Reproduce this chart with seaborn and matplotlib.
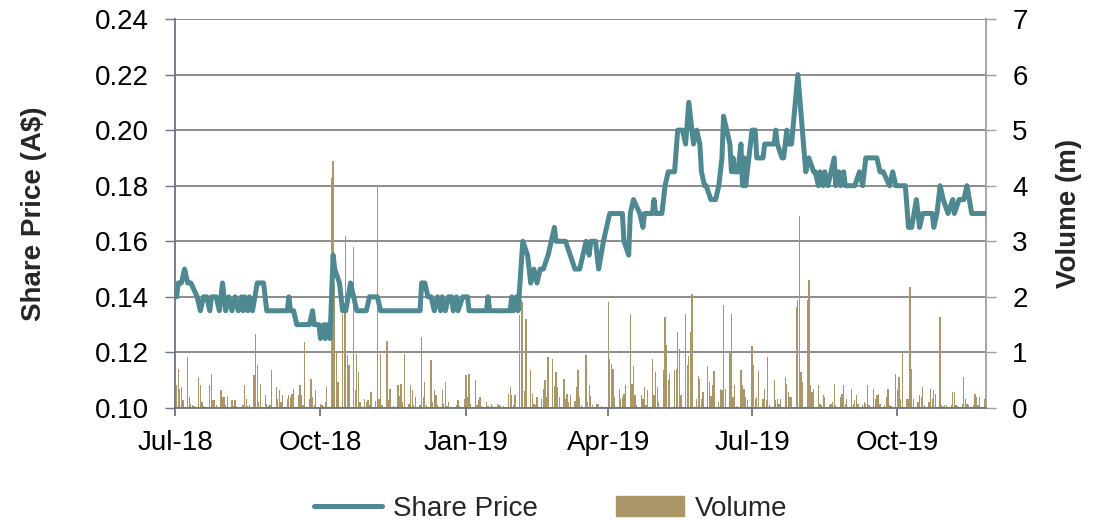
## Share price (line) and daily traded volume (bars), Jul-18 to Nov-19, dual axis.

import pandas as pd
import matplotlib
matplotlib.use('Agg')
import matplotlib.pyplot as plt
import matplotlib.dates as mdates
from matplotlib.ticker import FormatStrFormatter, MultipleLocator
from matplotlib.lines import Line2D
from matplotlib.patches import Patch
import seaborn as sns

PRICE_COLOR = '#4E8992'
VOLUME_COLOR = '#AB9668'

# Share price turning points (A$)
price_dates = [
    '2018-07-02', '2018-07-03', '2018-07-05', '2018-07-07', '2018-07-09', '2018-07-11',
    '2018-07-15', '2018-07-17', '2018-07-19', '2018-07-21', '2018-07-23', '2018-07-24',
    '2018-07-27', '2018-07-29', '2018-07-31', '2018-08-02', '2018-08-04', '2018-08-06',
    '2018-08-08', '2018-08-10', '2018-08-12', '2018-08-13', '2018-08-14', '2018-08-16',
    '2018-08-17', '2018-08-19', '2018-08-22', '2018-08-26', '2018-08-28', '2018-09-10',
    '2018-09-11', '2018-09-12', '2018-09-14', '2018-09-16', '2018-09-24', '2018-09-26',
    '2018-09-27', '2018-09-30', '2018-10-01', '2018-10-03', '2018-10-04', '2018-10-05',
    '2018-10-07', '2018-10-09', '2018-10-10', '2018-10-13', '2018-10-15', '2018-10-17',
    '2018-10-20', '2018-10-22', '2018-10-24', '2018-10-30', '2018-11-01', '2018-11-06',
    '2018-11-08', '2018-12-03', '2018-12-04', '2018-12-06', '2018-12-08', '2018-12-10',
    '2018-12-12', '2018-12-14', '2018-12-16', '2018-12-17', '2018-12-19', '2018-12-21',
    '2018-12-23', '2018-12-24', '2018-12-26', '2018-12-27', '2018-12-30', '2019-01-02',
    '2019-01-03', '2019-01-14', '2019-01-15', '2019-01-16', '2019-01-29', '2019-01-30',
    '2019-01-31', '2019-02-02', '2019-02-03', '2019-02-06', '2019-02-09', '2019-02-11',
    '2019-02-13', '2019-02-15', '2019-02-17', '2019-02-19', '2019-02-22', '2019-02-24',
    '2019-02-26', '2019-02-27', '2019-03-05', '2019-03-08', '2019-03-11', '2019-03-14',
    '2019-03-18', '2019-03-20', '2019-03-21', '2019-03-24', '2019-03-26', '2019-03-29',
    '2019-03-31', '2019-04-02', '2019-04-10', '2019-04-11', '2019-04-14', '2019-04-15',
    '2019-04-17', '2019-04-21', '2019-04-23', '2019-04-24', '2019-04-29', '2019-04-30',
    '2019-05-01', '2019-05-05', '2019-05-07', '2019-05-09', '2019-05-13', '2019-05-15',
    '2019-05-18', '2019-05-20', '2019-05-22', '2019-05-25', '2019-05-27', '2019-05-29',
    '2019-05-30', '2019-06-01', '2019-06-02', '2019-06-05', '2019-06-08', '2019-06-10',
    '2019-06-12', '2019-06-13', '2019-06-15', '2019-06-17', '2019-06-18', '2019-06-19',
    '2019-06-20', '2019-06-22', '2019-06-24', '2019-06-25', '2019-06-26', '2019-06-27',
    '2019-06-29', '2019-07-01', '2019-07-03', '2019-07-04', '2019-07-08', '2019-07-09',
    '2019-07-15', '2019-07-16', '2019-07-17', '2019-07-20', '2019-07-21', '2019-07-23',
    '2019-07-24', '2019-07-26', '2019-07-30', '2019-08-04', '2019-08-06', '2019-08-09',
    '2019-08-10', '2019-08-12', '2019-08-13', '2019-08-15', '2019-08-16', '2019-08-18',
    '2019-08-20', '2019-08-22', '2019-08-23', '2019-08-25', '2019-08-26', '2019-08-28',
    '2019-08-29', '2019-09-04', '2019-09-07', '2019-09-09', '2019-09-11', '2019-09-18',
    '2019-09-20', '2019-09-22', '2019-09-26', '2019-09-28', '2019-09-30', '2019-10-06',
    '2019-10-08', '2019-10-10', '2019-10-13', '2019-10-15', '2019-10-17', '2019-10-23',
    '2019-10-24', '2019-10-26', '2019-10-28', '2019-10-30', '2019-11-02', '2019-11-05',
    '2019-11-06', '2019-11-09', '2019-11-12', '2019-11-14', '2019-11-17', '2019-11-26',
]
price_values = [
    0.140, 0.145, 0.145, 0.150, 0.145, 0.145,
    0.140, 0.135, 0.140, 0.140, 0.135, 0.140,
    0.140, 0.135, 0.145, 0.135, 0.140, 0.135,
    0.140, 0.135, 0.140, 0.135, 0.140, 0.135,
    0.140, 0.135, 0.145, 0.145, 0.135, 0.135,
    0.140, 0.135, 0.135, 0.130, 0.130, 0.135,
    0.130, 0.130, 0.125, 0.130, 0.125, 0.130,
    0.125, 0.155, 0.150, 0.145, 0.135, 0.135,
    0.145, 0.140, 0.135, 0.135, 0.140, 0.140,
    0.135, 0.135, 0.145, 0.145, 0.140, 0.140,
    0.135, 0.140, 0.135, 0.140, 0.135, 0.140,
    0.140, 0.135, 0.140, 0.135, 0.140, 0.140,
    0.135, 0.135, 0.140, 0.135, 0.135, 0.140,
    0.135, 0.140, 0.135, 0.160, 0.155, 0.145,
    0.150, 0.145, 0.150, 0.150, 0.155, 0.160,
    0.165, 0.160, 0.160, 0.155, 0.150, 0.150,
    0.160, 0.155, 0.160, 0.160, 0.150, 0.160,
    0.165, 0.170, 0.170, 0.160, 0.155, 0.170,
    0.175, 0.170, 0.165, 0.170, 0.170, 0.175,
    0.170, 0.170, 0.180, 0.185, 0.185, 0.200,
    0.200, 0.195, 0.210, 0.195, 0.200, 0.195,
    0.185, 0.180, 0.180, 0.175, 0.175, 0.180,
    0.190, 0.205, 0.200, 0.195, 0.185, 0.190,
    0.185, 0.185, 0.195, 0.180, 0.190, 0.180,
    0.190, 0.200, 0.200, 0.190, 0.190, 0.195,
    0.195, 0.200, 0.195, 0.190, 0.190, 0.200,
    0.195, 0.195, 0.220, 0.185, 0.190, 0.185,
    0.185, 0.180, 0.185, 0.180, 0.185, 0.180,
    0.185, 0.190, 0.180, 0.185, 0.180, 0.185,
    0.180, 0.180, 0.185, 0.180, 0.190, 0.190,
    0.185, 0.185, 0.180, 0.185, 0.180, 0.180,
    0.165, 0.165, 0.175, 0.165, 0.170, 0.170,
    0.165, 0.170, 0.180, 0.175, 0.170, 0.175,
    0.170, 0.175, 0.175, 0.180, 0.170, 0.170,
]

# Daily volume (millions of shares), one list per month of trading days
volume_months = [
    '2018-07', '2018-08', '2018-09', '2018-10', '2018-11', '2018-12',
    '2019-01', '2019-02', '2019-03', '2019-04', '2019-05', '2019-06',
    '2019-07', '2019-08', '2019-09', '2019-10', '2019-11',
]
volume_by_month = [
    [0.41, 0.71, 0.35, 0.38, 0.14, 0.92, 0.20, 0.08, 0.05, 0.03, 0.56,
     0.41, 0.10, 0.04, 0.02, 0.41, 0.61, 0.14, 0.14, 0.05, 0.32, 0.20],
    [0.20, 0.05, 0.22, 0.14, 0.03, 0.14, 0.04, 0.02, 0.05, 0.41, 0.17, 0.03,
     0.05, 0.59, 1.34, 0.77, 0.10, 0.44, 0.23, 0.08, 0.03, 0.05, 0.68],
    [0.38, 0.17, 0.32, 0.11, 0.23, 0.17, 0.23, 0.20, 0.26, 0.35,
     0.23, 0.41, 0.23, 0.05, 1.18, 0.17, 0.53, 0.20, 0.05, 0.32],
    [0.08, 0.05, 0.03, 0.10, 0.38, 4.13, 4.45, 2.24, 1.00, 0.47, 1.70, 1.82,
     3.10, 0.95, 0.77, 2.90, 0.32, 0.97, 0.65, 0.10, 0.17, 0.11, 0.14],
    [0.05, 0.29, 0.13, 4.01, 0.17, 0.97, 0.05, 1.21, 0.14, 0.34, 0.02,
     0.03, 0.41, 0.22, 0.44, 0.10, 0.97, 0.08, 0.41, 0.32, 0.05, 0.19],
    [0.05, 1.28, 0.20, 0.46, 0.05, 0.86, 0.11, 0.32, 0.23, 0.05, 0.32,
     0.08, 0.47, 0.03, 0.11, 0.02, 0.00, 0.05, 0.14, 0.03, 0.17],
    [0.59, 0.20, 0.61, 0.08, 0.50, 0.05, 0.14, 0.20, 0.04, 0.11, 0.03, 0.02,
     0.08, 0.03, 0.07, 0.05, 0.03, 0.02, 0.04, 0.26, 0.37, 0.23, 0.05],
    [0.23, 1.67, 1.94, 1.90, 0.30, 1.61, 0.68, 0.26, 0.08, 0.05,
     0.20, 0.17, 0.35, 0.50, 0.20, 0.92, 0.89, 0.40, 0.64, 0.38],
    [0.20, 0.52, 0.17, 0.25, 0.10, 0.23, 0.13, 0.38, 0.68, 0.20, 0.05,
     0.95, 0.11, 0.41, 0.22, 0.05, 0.08, 0.07, 0.02, 0.03, 0.02],
    [1.91, 0.88, 0.80, 0.71, 0.20, 0.35, 0.17, 0.20, 0.26, 0.41, 1.69,
     0.44, 0.76, 0.23, 0.05, 0.23, 0.17, 0.38, 0.05, 0.32, 0.88, 0.23],
    [0.65, 0.38, 0.11, 0.68, 1.64, 1.13, 0.50, 0.61, 0.68, 0.71, 1.37, 1.07,
     0.23, 1.70, 0.77, 0.94, 1.37, 2.05, 0.17, 0.58, 0.53, 0.17, 0.29],
    [0.76, 0.47, 0.22, 0.41, 0.67, 0.11, 0.35, 0.32, 1.85, 0.35,
     1.00, 1.70, 0.20, 0.41, 0.04, 0.68, 0.41, 0.35, 0.20, 0.14],
    [1.12, 0.77, 0.17, 0.20, 0.67, 0.17, 0.34, 0.14, 0.92, 0.05, 0.50, 0.14,
     0.17, 0.08, 0.16, 0.55, 0.44, 0.29, 0.20, 0.20, 1.82, 1.94, 3.46],
    [0.64, 0.47, 1.94, 2.30, 0.41, 0.29, 0.35, 0.41, 0.08, 0.05, 0.23,
     0.20, 0.05, 0.08, 0.10, 0.44, 0.05, 0.20, 0.26, 0.41, 0.08, 0.17],
    [0.35, 0.08, 0.14, 0.23, 0.08, 0.05, 0.11, 0.08, 0.41, 0.05, 0.35,
     0.17, 0.23, 0.26, 0.08, 0.05, 0.20, 0.35, 0.05, 0.03, 0.62],
    [0.32, 0.56, 0.17, 1.01, 0.17, 0.17, 2.18, 0.70, 0.17, 0.10, 0.23, 0.20,
     0.38, 0.05, 0.10, 0.34, 0.17, 0.32, 0.26, 1.63, 0.05, 0.03, 0.05],
    [0.05, 0.05, 0.29, 0.29, 0.05, 0.03, 0.07, 0.55, 0.17,
     0.08, 0.05, 0.05, 0.26, 0.20, 0.05, 0.20, 0.17, 0.17],
]

sns.set_theme(style='white')
plt.rcParams['font.family'] = ['Liberation Sans', 'DejaVu Sans']

price_df = pd.DataFrame({'date': pd.to_datetime(price_dates), 'price': price_values})

frames = []
for month, vals in zip(volume_months, volume_by_month):
    start = pd.Timestamp(month + '-01')
    days = pd.bdate_range(start, start + pd.offsets.MonthEnd(0))[:len(vals)]
    frames.append(pd.DataFrame({'date': days, 'volume': vals[:len(days)]}))
volume_df = pd.concat(frames, ignore_index=True)

fig, ax = plt.subplots(figsize=(11.01, 5.2), dpi=100)
fig.subplots_adjust(left=0.159, right=0.8955, bottom=0.2154, top=0.9635)
ax2 = ax.twinx()

# volume bars on the right axis (drawn underneath the price line)
ax2.bar(volume_df['date'], volume_df['volume'], width=0.8, color=VOLUME_COLOR, linewidth=0)
sns.lineplot(data=price_df, x='date', y='price', ax=ax, color=PRICE_COLOR, linewidth=3.6)
ax.set_zorder(ax2.get_zorder() + 1)
ax.patch.set_visible(False)

ax.set_xlim(pd.Timestamp('2018-07-01'), pd.Timestamp('2019-11-26'))
ax.set_ylim(0.10, 0.24)
ax2.set_ylim(0, 7)
ax.yaxis.set_major_locator(MultipleLocator(0.02))
ax.yaxis.set_major_formatter(FormatStrFormatter('%.2f'))
ax2.yaxis.set_major_locator(MultipleLocator(1))
ax.xaxis.set_major_locator(mdates.MonthLocator(bymonth=[1, 4, 7, 10]))
ax.xaxis.set_major_formatter(mdates.DateFormatter('%b-%y'))

# grid lines sit behind the bars (both scales share the same 7 steps)
ax.grid(False)
ax2.grid(axis='y', color='#8C8C8C', linewidth=1.4)
ax2.set_axisbelow(True)
ax2.grid(axis='x', visible=False)

for a in (ax, ax2):
    a.spines['top'].set_visible(False)
ax.spines['right'].set_visible(False)
ax2.spines['left'].set_visible(False)
ax2.spines['bottom'].set_visible(False)
ax.spines['left'].set_color('#6A7485')
ax.spines['bottom'].set_color('#6A7485')
ax2.spines['right'].set_color('#A0A0A0')
for s in ('left', 'bottom'):
    ax.spines[s].set_linewidth(1.3)
ax2.spines['right'].set_linewidth(1.3)

ax.tick_params(axis='y', which='major', direction='out', length=7, width=1, color='#6A7485',
               labelsize=20, labelcolor='black', pad=12, left=True)
ax.tick_params(axis='x', which='major', direction='out', length=6, width=1.3, color='#6A7485',
               labelsize=20, labelcolor='black', pad=10, bottom=True)
ax2.tick_params(axis='y', which='major', direction='out', length=7, width=1, color='#A0A0A0',
                labelsize=20, labelcolor='black', pad=12, right=True)

ax.set_xlabel('')
ax.set_ylabel('Share Price (A$)', fontsize=20, fontweight='bold', labelpad=34)
ax2.set_ylabel('Volume (m)', fontsize=20, fontweight='bold', labelpad=20)

handles = [Line2D([0], [0], color=PRICE_COLOR, linewidth=3.6), Patch(color=VOLUME_COLOR)]
fig.legend(handles, ['Share Price', 'Volume'], loc='center', bbox_to_anchor=(0.5, 0.022),
           ncol=2, frameon=False, fontsize=20, handlelength=2.45, handletextpad=0.4,
           columnspacing=2.8)

fig.savefig('out.png', dpi=100)
